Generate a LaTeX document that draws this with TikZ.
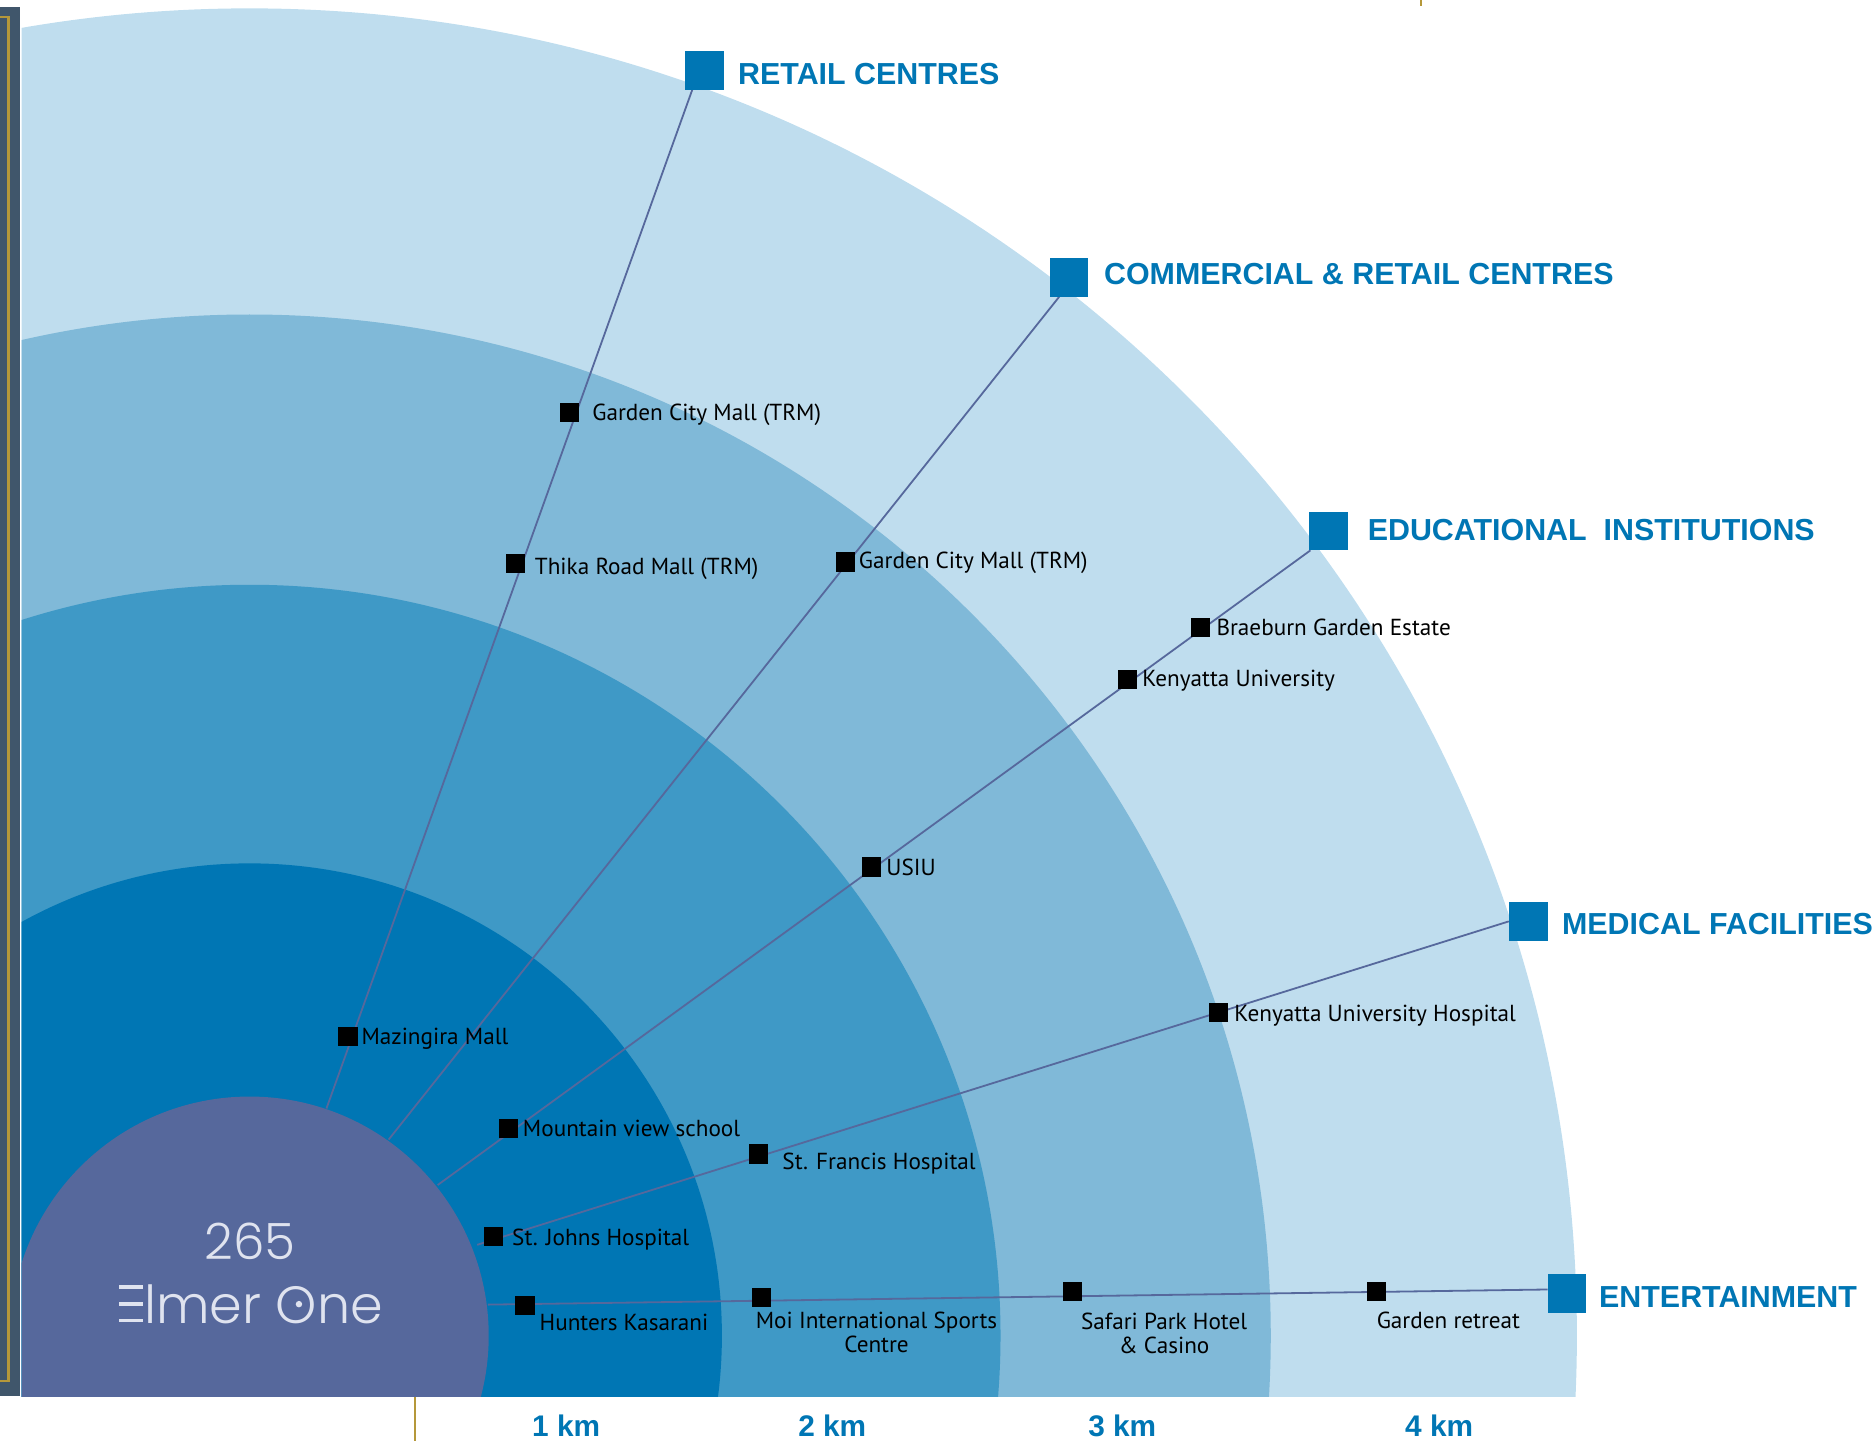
\documentclass[tikz,border=0pt]{standalone}
\usepackage{fontspec}
\setmainfont{PT Sans}
\newfontfamily\headfont{Liberation Sans}
\newfontfamily\logofont{Poppins Light}
\definecolor{ringa}{HTML}{0076B4}
\definecolor{ringb}{HTML}{3F99C6}
\definecolor{ringc}{HTML}{80B9D8}
\definecolor{ringd}{HTML}{BFDDEE}
\definecolor{core}{HTML}{56689C}
\definecolor{panel}{HTML}{40566B}
\definecolor{gold}{HTML}{B5983A}
\definecolor{logotext}{HTML}{DFE3EF}
\pgfdeclarelayer{lines}
\pgfsetlayers{lines,main}
\tikzset{
  pin/.style={fill=black,minimum size=9.6pt,inner sep=0pt,outer sep=0pt},
  headbox/.style={fill=ringa,minimum size=19.4pt,inner sep=0pt,outer sep=0pt},
  headtext/.style={anchor=west,inner sep=0pt,text=ringa,font=\headfont\bfseries\fontsize{15.2}{18}\selectfont},
  kmtext/.style={inner sep=0pt,text=ringa,font=\headfont\bfseries\fontsize{14.9}{18}\selectfont},
  place/.style={anchor=west,inner sep=0pt,text=black,font=\fontsize{11.6}{12.2}\selectfont},
  placetwo/.style={align=center,inner sep=0pt,text=black,font=\fontsize{11.6}{12}\selectfont},
  spoke/.style={draw=core,line width=0.9pt},
  goldline/.style={draw=gold,line width=1.2pt},
  logoa/.style={inner sep=0pt,text=logotext,font=\logofont\fontsize{25}{30}\selectfont},
  logob/.style={inner sep=0pt,text=logotext,font=\logofont\fontsize{26.2}{30}\selectfont},
}
\begin{document}
\begin{tikzpicture}[x=0.5979pt,y=-0.5979pt]
\useasboundingbox (0,0) rectangle (1568,1205);
\begin{pgfonlayer}{lines}
\fill[panel] (0,6) rectangle (17,1167);
\draw[goldline] (0,14) -- (7,14) -- (7,1155) -- (0,1155);
\draw[goldline] (347,1168) -- (347,1205);
\draw[goldline] (1188.5,0) -- (1188.5,5);
\begin{scope}
\clip (18,0) rectangle (1568,1168);
\fill[ringd] (208.7,1117) circle [radius=1110];
\fill[ringc] (208.7,1117) circle [radius=854];
\fill[ringb] (208.7,1117) circle [radius=628];
\fill[ringa] (208.7,1117) circle [radius=395];
\fill[core] (208.7,1117) circle [radius=200];
\end{scope}
\end{pgfonlayer}
% heading squares
\node[headbox] (hretail) at (589,59) {};
\node[headbox] (hcomm) at (894,232) {};
\node[headbox] (hedu) at (1111,444) {};
\node[headbox] (hmed) at (1278,770.5) {};
\node[headbox] (hent) at (1310.5,1081.5) {};
% spoke origins on the core circle
\coordinate (sretail) at (273,927);
\coordinate (scomm) at (325,953);
\coordinate (sedu) at (366,991);
\coordinate (smed) at (399,1041);
\coordinate (sent) at (408,1091);
\begin{pgfonlayer}{lines}
\draw[spoke] (sretail) -- (hretail.238);
\draw[spoke] (scomm) -- (hcomm.243);
\draw[spoke] (sedu) -- (hedu.227);
\draw[spoke] (smed) -- (hmed.180);
\draw[spoke] (sent) -- (hent.169);
\end{pgfonlayer}
% pins
\node[pin] (p1) at (476,345) {};
\node[pin] (p2) at (431,471) {};
\node[pin] (p3) at (291,867) {};
\node[pin] (p4) at (707,470) {};
\node[pin] (p5) at (1004,525) {};
\node[pin] (p6) at (943,568) {};
\node[pin] (p7) at (729,725) {};
\node[pin] (p8) at (425,944) {};
\node[pin] (p9) at (1019,847) {};
\node[pin] (p10) at (634,965) {};
\node[pin] (p11) at (413,1034) {};
\node[pin] (p12) at (1151,1080) {};
\node[pin] (p13) at (897,1080) {};
\node[pin] (p14) at (637,1085) {};
\node[pin] (p15) at (439,1092) {};
% place labels
\node[place] (l1) at (495,347) {Garden City Mall (TRM)};
\node[place] (l2) at (447,476) {Thika Road Mall (TRM)};
\node[place] (l3) at (302,869) {Mazingira Mall};
\node[place] (l4) at (718,471) {Garden City Mall (TRM)};
\node[place] (l5) at (1017,525) {Braeburn Garden Estate};
\node[place] (l6) at (955,569) {Kenyatta University};
\node[place] (l7) at (741,725) {USIU};
\node[place] (l8) at (437,944) {Mountain view school};
\node[place] (l9) at (1032,849) {Kenyatta University Hospital};
\node[place] (l10) at (654,973) {St. Francis Hospital};
\node[place] (l11) at (428,1037) {St. Johns Hospital};
\node[place] (l12) at (1151,1104) {Garden retreat};
\node[placetwo] (l13) at (973.5,1115) {Safari Park Hotel\\\& Casino};
\node[placetwo] (l14) at (733,1114) {Moi International Sports\\Centre};
\node[place] (l15) at (451,1106) {Hunters Kasarani};
% headings
\node[headtext] (t1) at (617,61.5) {RETAIL CENTRES};
\node[headtext] (t2) at (923,229) {COMMERCIAL \& RETAIL CENTRES};
\node[headtext] (t3) at (1143.5,443) {EDUCATIONAL\ \ INSTITUTIONS};
\node[headtext] (t4) at (1306,772.5) {MEDICAL FACILITIES};
\node[headtext] (t5) at (1337,1085) {ENTERTAINMENT};
% distance labels
\node[kmtext] (k1) at (473.5,1192) {1 km};
\node[kmtext] (k2) at (696,1192) {2 km};
\node[kmtext] (k3) at (938.5,1192) {3 km};
\node[kmtext] (k4) at (1203.5,1192) {4 km};
% logo
\node[logoa] (n265) at (209,1038) {265};
\node[logob] (nelmer) at (209.5,1091) {Elmer One};
\fill[core] (96,1070) rectangle (123,1110);
\fill[logotext] (99.5,1075) rectangle (120,1077.8);
\fill[logotext] (99.5,1089.2) rectangle (120,1092);
\fill[logotext] (99.5,1102.8) rectangle (120,1105.6);
\fill[logotext] (250,1090.6) circle [radius=2.7];
\end{tikzpicture}
\end{document}
